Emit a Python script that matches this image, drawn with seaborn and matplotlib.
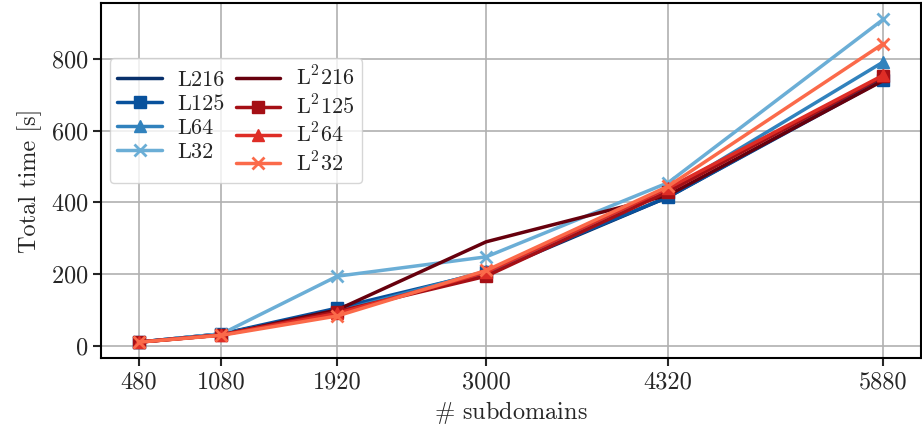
import matplotlib
matplotlib.use("Agg")
import matplotlib.pyplot as plt
import seaborn as sns
import pandas as pd

subdomains = [480, 1080, 1920, 3000, 4320, 5880]
labels = ["L216", "L125", "L64", "L32",
          "L$^2$216", "L$^2$125", "L$^2$64", "L$^2$32"]
L216 = [10, 33, 98, 200, 415, 745]
L125 = [10, 33, 105, 205, 415, 742]
L64 = [10, 32, 95, 208, 430, 792]
L32 = [10, 33, 194, 248, 455, 911]
L2_216 = [10, 30, 100, 290, 420, 740]
L2_125 = [10, 30, 95, 194, 430, 752]
L2_64 = [10, 30, 90, 205, 440, 755]
L2_32 = [10, 29, 83, 210, 445, 843]
series = [L216, L125, L64, L32, L2_216, L2_125, L2_64, L2_32]

colors = ["#08306b", "#08519c", "#3182bd", "#6baed6",
          "#67000d", "#a50f15", "#de2d26", "#fb6a4a"]
markers = [None, "s", "^", "x", None, "s", "^", "x"]

sns.set_style("ticks")
plt.rcParams["font.family"] = ["cmr10", "DejaVu Serif"]
plt.rcParams["mathtext.fontset"] = "cm"
plt.rcParams["axes.unicode_minus"] = False
plt.rcParams["axes.formatter.use_mathtext"] = True

fig, ax = plt.subplots(figsize=(9.22, 4.38), dpi=100)

for lab, vals, c, m in zip(labels, series, colors, markers):
    df = pd.DataFrame({"x": subdomains, "y": vals})
    sns.lineplot(data=df, x="x", y="y", ax=ax, color=c, marker=m,
                 markersize=8, linewidth=2.5, label=lab,
                 markeredgewidth=2 if m == "x" else 1,
                 markeredgecolor=c)

ax.set_xticks(subdomains)
ax.set_xticklabels([str(s) for s in subdomains])
ax.set_yticks([0, 200, 400, 600, 800])
ax.tick_params(labelsize=17.5, width=1.5, length=6)
ax.set_xlabel(r"$\#$ subdomains", fontsize=17.5, labelpad=4)
ax.set_ylabel("Total time [s]", fontsize=17.5, labelpad=6)
ax.grid(True, color="#b0b0b0", linewidth=1.2)
ax.set_axisbelow(True)
for s in ax.spines.values():
    s.set_visible(True)
    s.set_color("black")
    s.set_linewidth(1.5)

ax.legend(ncol=2, loc="upper left", bbox_to_anchor=(0.01, 0.845),
          borderaxespad=0, fontsize=16, framealpha=0.8,
          columnspacing=0.5, handlelength=2.0, handletextpad=0.7,
          labelspacing=0.2, borderpad=0.35)

fig.subplots_adjust(left=0.11, right=0.9985, top=0.993, bottom=0.182)
fig.savefig("out.png", dpi=100)
